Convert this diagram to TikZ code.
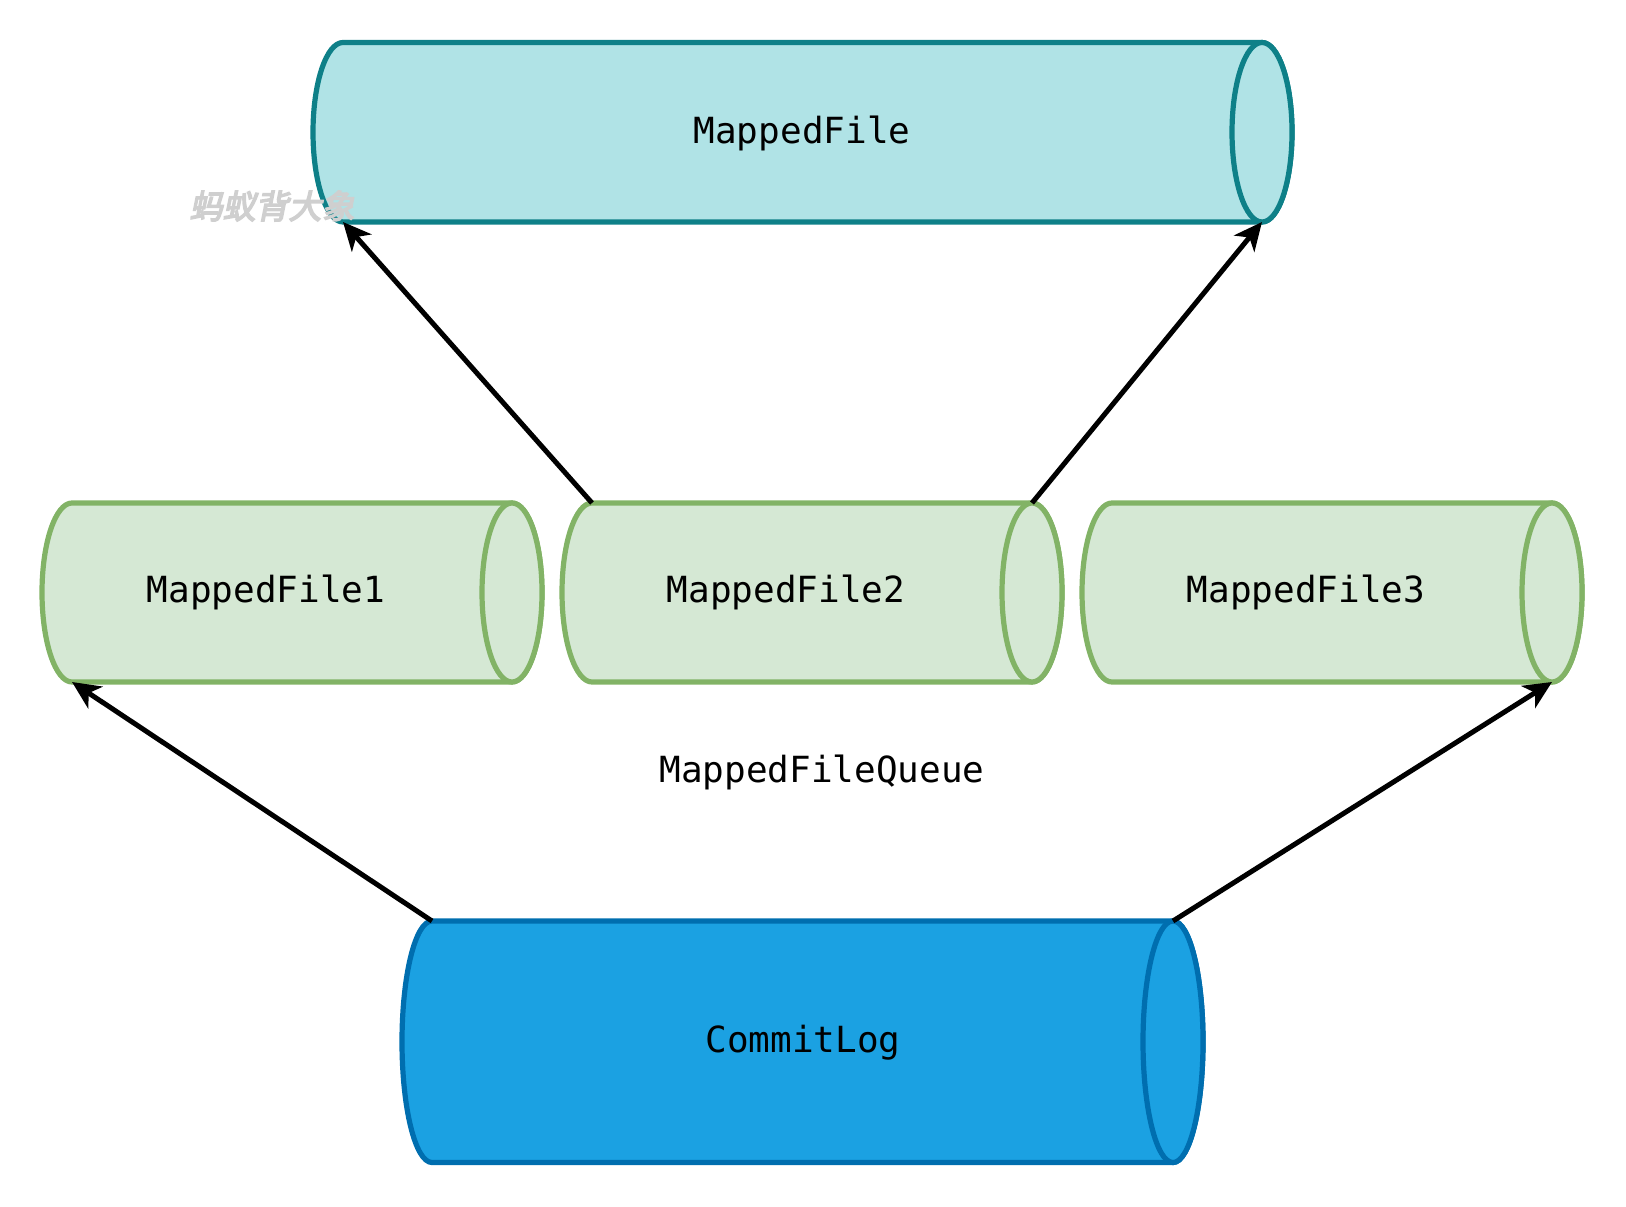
\documentclass[tikz,border=0pt]{standalone}
\usepackage{fontspec}
\usetikzlibrary{arrows.meta}
\newfontfamily\monofnt{DejaVu Sans Mono}
\newfontfamily\cjk[FakeSlant=0.2,FakeBold=4.5]{Noto Sans CJK SC}
\definecolor{mfFill}{HTML}{B0E3E6}
\definecolor{mfDraw}{HTML}{0E8088}
\definecolor{grFill}{HTML}{D5E8D4}
\definecolor{grDraw}{HTML}{82B366}
\definecolor{clFill}{HTML}{1BA1E2}
\definecolor{clDraw}{HTML}{006EAF}
\tikzset{
  cylteal/.style={draw=mfDraw,fill=mfFill,line width=2.6pt,line join=round},
  cylgreen/.style={draw=grDraw,fill=grFill,line width=2.6pt,line join=round},
  cylblue/.style={draw=clDraw,fill=clFill,line width=2.6pt,line join=round},
  lbl/.style={font=\monofnt\fontsize{18}{22}\selectfont,text=black,inner sep=0pt},
  arr/.style={line width=2.5pt,draw=black,-{Stealth[length=14pt,width=13pt,inset=4pt]}}
}
\begin{document}
\begin{tikzpicture}[x=0.5pt,y=0.5pt]
\useasboundingbox (0,0) rectangle (1626,1206);
% MappedFile (top)
\path[cylteal] (343,1163.5) -- (1262,1163.5) arc[start angle=90,end angle=-90,x radius=15pt,y radius=44.875pt] -- (343,984) arc[start angle=270,end angle=90,x radius=15pt,y radius=44.875pt] -- cycle;
\draw[cylteal] (1262,1073.75) ellipse[x radius=15pt,y radius=44.875pt];
\node[lbl] (mf) at (802,1073) {MappedFile};
\coordinate (mfbl) at (343,984);
\coordinate (mfbr) at (1262,984);
% MappedFile1
\path[cylgreen] (72,703) -- (512,703) arc[start angle=90,end angle=-90,x radius=15pt,y radius=44.75pt] -- (72,524) arc[start angle=270,end angle=90,x radius=15pt,y radius=44.75pt] -- cycle;
\draw[cylgreen] (512,613.5) ellipse[x radius=15pt,y radius=44.75pt];
\node[lbl] (mf1) at (266,614) {MappedFile1};
\coordinate (mfonebl) at (72,524);
% MappedFile2
\path[cylgreen] (592,703) -- (1032,703) arc[start angle=90,end angle=-90,x radius=15pt,y radius=44.75pt] -- (592,524) arc[start angle=270,end angle=90,x radius=15pt,y radius=44.75pt] -- cycle;
\draw[cylgreen] (1032,613.5) ellipse[x radius=15pt,y radius=44.75pt];
\node[lbl] (mf2) at (786,614) {MappedFile2};
\coordinate (mftwotl) at (592,703);
\coordinate (mftwotr) at (1032,703);
% MappedFile3
\path[cylgreen] (1112,703) -- (1552,703) arc[start angle=90,end angle=-90,x radius=15pt,y radius=44.75pt] -- (1112,524) arc[start angle=270,end angle=90,x radius=15pt,y radius=44.75pt] -- cycle;
\draw[cylgreen] (1552,613.5) ellipse[x radius=15pt,y radius=44.75pt];
\node[lbl] (mf3) at (1306,614) {MappedFile3};
\coordinate (mfthreebr) at (1552,524);
% Queue label
\node[lbl] (queue) at (822,434) {MappedFileQueue};
% CommitLog
\path[cylblue] (432,285) -- (1173,285) arc[start angle=90,end angle=-90,x radius=15pt,y radius=60.375pt] -- (432,43.5) arc[start angle=270,end angle=90,x radius=15pt,y radius=60.375pt] -- cycle;
\draw[cylblue] (1173,164.25) ellipse[x radius=15pt,y radius=60.375pt];
\node[lbl] (cl) at (803,163) {CommitLog};
\coordinate (cltl) at (432,285);
\coordinate (cltr) at (1173,285);
% arrows
\draw[arr] (mftwotl) -- (mfbl);
\draw[arr] (mftwotr) -- (mfbr);
\draw[arr] (cltl) -- (mfonebl);
\draw[arr] (cltr) -- (mfthreebr);
% watermark
\node[font=\cjk\fontsize{16.5}{18}\selectfont,text=black!19,inner sep=0pt] (wm) at (272,1000) {蚂蚁背大象};
\end{tikzpicture}
\end{document}
